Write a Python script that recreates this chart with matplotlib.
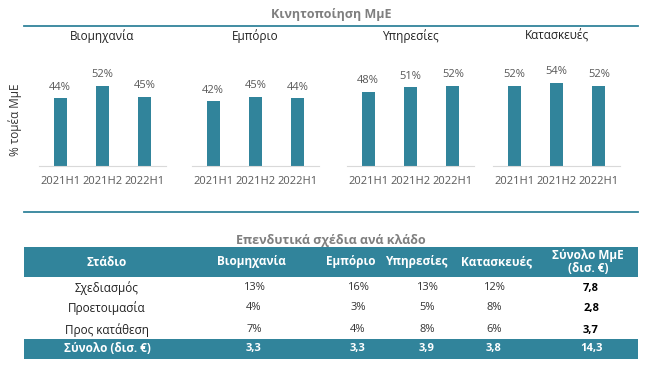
import matplotlib.pyplot as plt
from matplotlib.patches import Rectangle

plt.rcParams['font.family'] = ['Open Sans', 'DejaVu Sans']

# data
sectors = ['Βιομηχανία', 'Εμπόριο', 'Υπηρεσίες', 'Κατασκευές']
periods = ['2021H1', '2021H2', '2022H1']
share_biom = [44, 52, 45]
share_empor = [42, 45, 44]
share_ypir = [48, 51, 52]
share_kat = [52, 54, 52]
shares = [share_biom, share_empor, share_ypir, share_kat]

stages = ['Σχεδιασμός', 'Προετοιμασία', 'Προς κατάθεση']
plan_biom = [13, 4, 7]
plan_empor = [16, 3, 4]
plan_ypir = [13, 5, 8]
plan_kat = [12, 8, 6]
plan_total = [7.8, 2.8, 3.7]
col_totals = [3.3, 3.3, 3.9, 3.8, 14.3]

teal = '#31849b'
gray_txt = '#595959'
W, H = 661, 374

fig = plt.figure(figsize=(W / 100, H / 100), dpi=100)

# overlay in pixel coords
ov = fig.add_axes([0, 0, 1, 1])
ov.set_xlim(0, W)
ov.set_ylim(H, 0)
ov.axis('off')

def fr(x0, y0, w, h):
    return [x0 / W, 1 - (y0 + h) / H, w / W, h / H]

ov.text(331, 14, 'Κινητοποίηση ΜμΕ', ha='center', va='center', fontsize=9,
        fontweight='bold', color='#7f7f7f')
ov.plot([24, 638], [26, 26], color=teal, lw=1.3)
ov.text(15, 120, '% τομέα ΜμΕ', rotation=90, ha='center', va='center',
        fontsize=8.5, color='#333333')

lefts = [39, 192, 347, 493]
for left, name, vals in zip(lefts, sectors, shares):
    ax = fig.add_axes(fr(left, 58, 127, 108))
    x = range(len(periods))
    bars = ax.bar(x, vals, width=0.31, color=teal)
    ax.bar_label(bars, labels=[f'{v}%' for v in vals], padding=4,
                 fontsize=8, color=gray_txt)
    ax.set_xlim(-0.5, 2.5)
    ax.set_ylim(0, 70)
    ax.set_xticks(list(x))
    ax.set_xticklabels(periods, fontsize=8, color=gray_txt)
    ax.tick_params(axis='x', length=0, pad=7)
    ax.set_yticks([])
    for s in ['top', 'right', 'left']:
        ax.spines[s].set_visible(False)
    ax.spines['bottom'].set_color('#d9d9d9')
    ax.text(1, 1.2, name, transform=ax.get_xaxis_transform(), ha='center',
            va='center', fontsize=8.5, color='#222222')

# table
ov.plot([24, 638], [212, 212], color=teal, lw=1.3)
ov.text(331, 240, 'Επενδυτικά σχέδια ανά κλάδο', ha='center', va='center',
        fontsize=9, fontweight='bold', color='#7f7f7f')

ov.add_patch(Rectangle((24, 247), 614, 30, color=teal, lw=0))
ov.add_patch(Rectangle((24, 339), 614, 20, color=teal, lw=0))

head_x = [107, 251, 351, 416, 497, 588]
val_x = [107, 254, 358, 427, 494, 591]
headers = ['Στάδιο'] + sectors + ['Σύνολο ΜμΕ\n(δισ. €)']
for hx, h in zip(head_x, headers):
    ov.text(hx, 262, h, ha='center', va='center', fontsize=8.5,
            fontweight='bold', color='white', linespacing=1.05)

def fmt(v):
    return f'{v:.1f}'.replace('.', ',')

row_y = [288, 308, 330]
cols = [plan_biom, plan_empor, plan_ypir, plan_kat]
for i, st in enumerate(stages):
    ov.text(val_x[0], row_y[i], st, ha='center', va='center', fontsize=8.5,
            color='#222222')
    for j, c in enumerate(cols):
        ov.text(val_x[j + 1], row_y[i], f'{c[i]}%', ha='center', va='center',
                fontsize=8, color='#333333')
    ov.text(val_x[5], row_y[i], fmt(plan_total[i]), ha='center', va='center',
            fontsize=8, fontweight='bold', color='black')

ov.text(val_x[0], 349, 'Σύνολο (δισ. €)', ha='center', va='center',
        fontsize=8.5, fontweight='bold', color='white')
for j, v in enumerate(col_totals):
    ov.text(val_x[j + 1], 349, fmt(v), ha='center', va='center',
            fontsize=8, fontweight='bold', color='white')

fig.savefig('out.png', dpi=100)
